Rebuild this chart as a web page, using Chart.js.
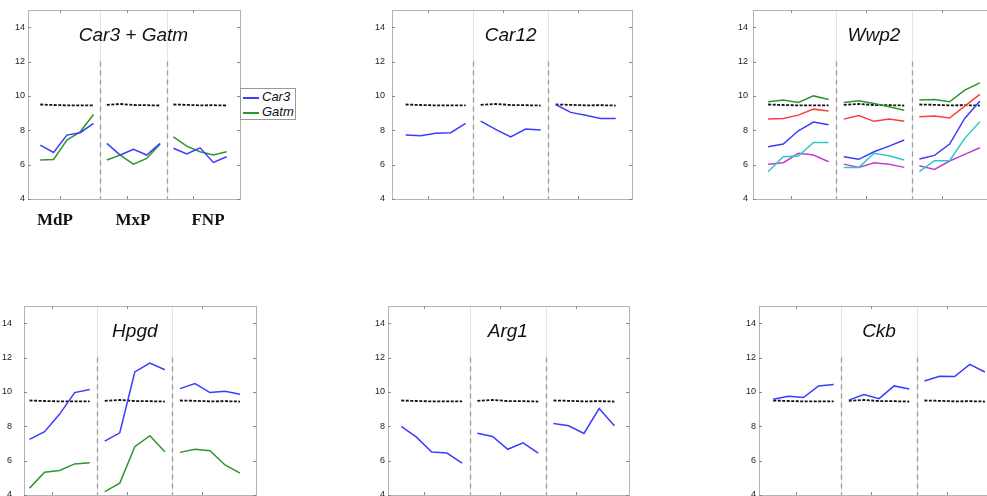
<!DOCTYPE html>
<html>
<head>
<meta charset="utf-8">
<script src="https://cdn.jsdelivr.net/npm/chart.js@4.4.1/dist/chart.umd.min.js"></script>
<style>
  html, body { margin: 0; padding: 0; background: #fff; }
  #wrap { position: relative; width: 987px; height: 496px; overflow: hidden; background: #fff; }
  #wrap canvas { position: absolute; }
  .grp { position: absolute; width: 60px; margin-left: -30px; text-align: center;
         font: bold 17px "Liberation Serif", "DejaVu Serif", serif; color: #111; }
  #legend { position: absolute; left: 240px; top: 88px; width: 56px; height: 32px;
            border: 1px solid #999; background: #fff; box-sizing: border-box;
            font: italic 13px "Liberation Sans", Arial, sans-serif; color: #111; }
  #legend div { height: 15px; line-height: 15px; white-space: nowrap; }
  #legend span.ln { display: inline-block; width: 16px; height: 0; border-top-width: 2px;
                    border-top-style: solid; vertical-align: middle; margin: 0 3px 0 2px; }
</style>
</head>
<body>
<div id="wrap"></div>
<script>
// sample positions (5 per region), region boundaries and names
const positions = [0, 1, 2, 3, 4, 5, 6, 7, 8, 9, 10, 11, 12, 13, 14];
const groupBreaks = [4.5, 9.5];
const groups = ['MdP', 'MxP', 'FNP'];
const groupLabelX = [55, 133, 208];
const xTicks = [1.5, 6.5, 11.5];
const yTicks = [4, 6, 8, 10, 12, 14];

// dashed black reference (same in every panel)
const refLine = [9.50, 9.47, 9.45, 9.45, 9.45, 9.48, 9.53, 9.47, 9.46, 9.44, 9.50, 9.48, 9.45, 9.46, 9.44];

const car3  = [7.14, 6.71, 7.72, 7.86, 8.40, 7.24, 6.56, 6.89, 6.56, 7.24, 6.95, 6.62, 6.98, 6.13, 6.46];
const gatm  = [6.27, 6.30, 7.43, 7.91, 8.92, 6.27, 6.56, 6.03, 6.36, 7.20, 7.62, 7.08, 6.75, 6.56, 6.75];
const car12 = [7.72, 7.68, 7.82, 7.86, 8.40, 8.53, 8.05, 7.62, 8.07, 8.01, 9.50, 9.04, 8.88, 8.69, 8.69];
const wwp2Green   = [9.66, 9.76, 9.62, 10.00, 9.79, 9.62, 9.72, 9.56, 9.37, 9.17, 9.76, 9.79, 9.66, 10.34, 10.76];
const wwp2Red     = [8.65, 8.69, 8.88, 9.23, 9.12, 8.65, 8.86, 8.52, 8.65, 8.52, 8.79, 8.83, 8.71, 9.41, 10.09];
const wwp2Blue    = [7.04, 7.20, 7.97, 8.48, 8.32, 6.46, 6.31, 6.75, 7.08, 7.43, 6.33, 6.54, 7.20, 8.69, 9.70];
const wwp2Cyan    = [5.59, 6.46, 6.50, 7.29, 7.29, 5.84, 5.84, 6.66, 6.52, 6.27, 5.59, 6.23, 6.23, 7.53, 8.50];
const wwp2Magenta = [6.02, 6.11, 6.66, 6.56, 6.17, 6.03, 5.84, 6.11, 6.02, 5.84, 5.94, 5.72, 6.21, 6.60, 6.98];
const hpgdBlue  = [7.24, 7.68, 8.71, 9.96, 10.14, 7.14, 7.62, 11.16, 11.68, 11.29, 10.19, 10.48, 9.96, 10.04, 9.86];
const hpgdGreen = [4.40, 5.33, 5.43, 5.81, 5.88, 4.20, 4.69, 6.81, 7.45, 6.52, 6.48, 6.66, 6.58, 5.75, 5.27];
const arg1 = [7.99, 7.37, 6.50, 6.44, 5.86, 7.60, 7.41, 6.66, 7.04, 6.44, 8.16, 8.03, 7.58, 9.03, 8.03];
const ckb  = [9.57, 9.75, 9.67, 10.35, 10.43, 9.52, 9.85, 9.61, 10.35, 10.17, 10.64, 10.91, 10.89, 11.60, 11.16];

const BLUE = '#3c3cff', GREEN = '#2e962e', RED = '#ff3c3c', CYAN = '#2ec8c8', MAGENTA = '#c43cd0';

const panels = [
  { title: 'Car3 + Gatm', area: [28, 10, 240, 199], xlim: [-0.92, 15], pad: 3,
    series: [['Car3', car3, BLUE], ['Gatm', gatm, GREEN]] },
  { title: 'Car12', area: [392, 10, 632, 199], xlim: [-0.91, 15.09], pad: 7,
    series: [['Car12', car12, BLUE]] },
  { title: 'Wwp2', area: [753, 10, 998, 199], xlim: [-1, 15.2], pad: 5,
    series: [['a', wwp2Green, GREEN], ['b', wwp2Red, RED], ['c', wwp2Blue, BLUE],
             ['d', wwp2Cyan, CYAN], ['e', wwp2Magenta, MAGENTA]] },
  { title: 'Hpgd', area: [24, 306, 256, 495], xlim: [-0.37, 15.06], pad: 12,
    series: [['Hpgd', hpgdBlue, BLUE], ['Hpgd2', hpgdGreen, GREEN]] },
  { title: 'Arg1', area: [388, 306, 629, 495], xlim: [-0.87, 14.96], pad: 3,
    series: [['Arg1', arg1, BLUE]] },
  { title: 'Ckb', area: [759, 306, 1000, 495], xlim: [-0.94, 15], pad: 3,
    series: [['Ckb', ckb, BLUE]] }
];

// points with a break between the regions
const toPoints = vals => {
  const pts = [];
  positions.forEach((x, i) => {
    if (groupBreaks.some(b => Math.abs(b - (x - 0.5)) < 1e-9)) pts.push({ x: x - 0.5, y: null });
    pts.push({ x, y: vals[i] });
  });
  return pts;
};

const framePlugin = {
  id: 'frame',
  beforeDatasetsDraw(chart) {
    const { ctx, chartArea: a, scales: { x, y } } = chart;
    ctx.save();
    groupBreaks.forEach(b => {
      const px = Math.round(x.getPixelForValue(b)) + 0.5;
      ctx.strokeStyle = '#e4e4e4';
      ctx.lineWidth = 1;
      ctx.beginPath(); ctx.moveTo(px, a.top); ctx.lineTo(px, a.bottom); ctx.stroke();
      ctx.strokeStyle = '#9a9a9a';
      ctx.lineWidth = 1.3;
      ctx.setLineDash([5, 4]);
      ctx.beginPath(); ctx.moveTo(px, y.getPixelForValue(12)); ctx.lineTo(px, a.bottom); ctx.stroke();
      ctx.setLineDash([]);
    });
    ctx.restore();
  },
  afterDraw(chart) {
    const { ctx, chartArea: a, scales: { x, y } } = chart;
    ctx.save();
    ctx.strokeStyle = '#b4b4b4';
    ctx.lineWidth = 1;
    ctx.strokeRect(Math.round(a.left) + 0.5, Math.round(a.top) + 0.5,
                   Math.round(a.right - a.left), Math.round(a.bottom - a.top));
    ctx.strokeStyle = '#888';
    ctx.beginPath();
    xTicks.forEach(v => {
      const px = Math.round(x.getPixelForValue(v)) + 0.5;
      ctx.moveTo(px, a.top); ctx.lineTo(px, a.top + 3);
      ctx.moveTo(px, a.bottom); ctx.lineTo(px, a.bottom - 3);
    });
    yTicks.forEach(v => {
      const py = Math.round(y.getPixelForValue(v)) + 0.5;
      ctx.moveTo(a.left, py); ctx.lineTo(a.left + 3, py);
      ctx.moveTo(a.right, py); ctx.lineTo(a.right - 3, py);
    });
    ctx.stroke();
    ctx.fillStyle = '#111';
    ctx.font = 'italic 19px "Liberation Sans", Arial, sans-serif';
    ctx.textAlign = 'center';
    ctx.textBaseline = 'middle';
    ctx.fillText(chart.options.plugins.frame.title, x.getPixelForValue(7), y.getPixelForValue(13.5));
    ctx.restore();
  }
};

const wrap = document.getElementById('wrap');
const AX = 30, PAD = 22;

panels.forEach(p => {
  const [l, t, r, b] = p.area;
  const cv = document.createElement('canvas');
  cv.width = (r - l) + AX + PAD;
  cv.height = (b - t) + 2 * PAD;
  cv.style.left = (l - AX) + 'px';
  cv.style.top = (t - PAD) + 'px';
  wrap.appendChild(cv);

  const datasets = p.series.map(([label, vals, color]) => ({
    label, data: toPoints(vals), borderColor: color, borderWidth: 1.5,
    pointRadius: 0, tension: 0, spanGaps: false, fill: false
  }));
  datasets.push({
    label: 'ref', data: toPoints(refLine), borderColor: '#111', borderWidth: 1.8,
    borderDash: [3, 1.5], pointRadius: 0, tension: 0, spanGaps: false, fill: false
  });

  new Chart(cv, {
    type: 'line',
    data: { datasets },
    options: {
      responsive: false,
      animation: false,
      devicePixelRatio: 1,
      layout: { padding: { top: PAD, bottom: PAD, right: PAD, left: 0 } },
      plugins: { legend: { display: false }, tooltip: { enabled: false }, frame: { title: p.title } },
      scales: {
        x: { type: 'linear', min: p.xlim[0], max: p.xlim[1], display: false },
        y: {
          min: 4, max: 15,
          afterFit: s => { s.width = AX; },
          afterBuildTicks: s => { s.ticks = yTicks.map(v => ({ value: v })); },
          grid: { display: false, drawTicks: false },
          border: { display: false },
          ticks: { padding: p.pad, color: '#222', font: { family: '"Liberation Sans", Arial', size: 9 } }
        }
      }
    },
    plugins: [framePlugin]
  });
});

// region names under the first panel
groups.forEach((g, i) => {
  const d = document.createElement('div');
  d.className = 'grp';
  d.textContent = g;
  d.style.left = groupLabelX[i] + 'px';
  d.style.top = '210px';
  wrap.appendChild(d);
});

// legend for the first panel
const legend = document.createElement('div');
legend.id = 'legend';
panels[0].series.forEach(([label, , color]) => {
  const row = document.createElement('div');
  const ln = document.createElement('span');
  ln.className = 'ln';
  ln.style.borderTopColor = color;
  row.appendChild(ln);
  row.appendChild(document.createTextNode(label));
  legend.appendChild(row);
});
wrap.appendChild(legend);
</script>
</body>
</html>
